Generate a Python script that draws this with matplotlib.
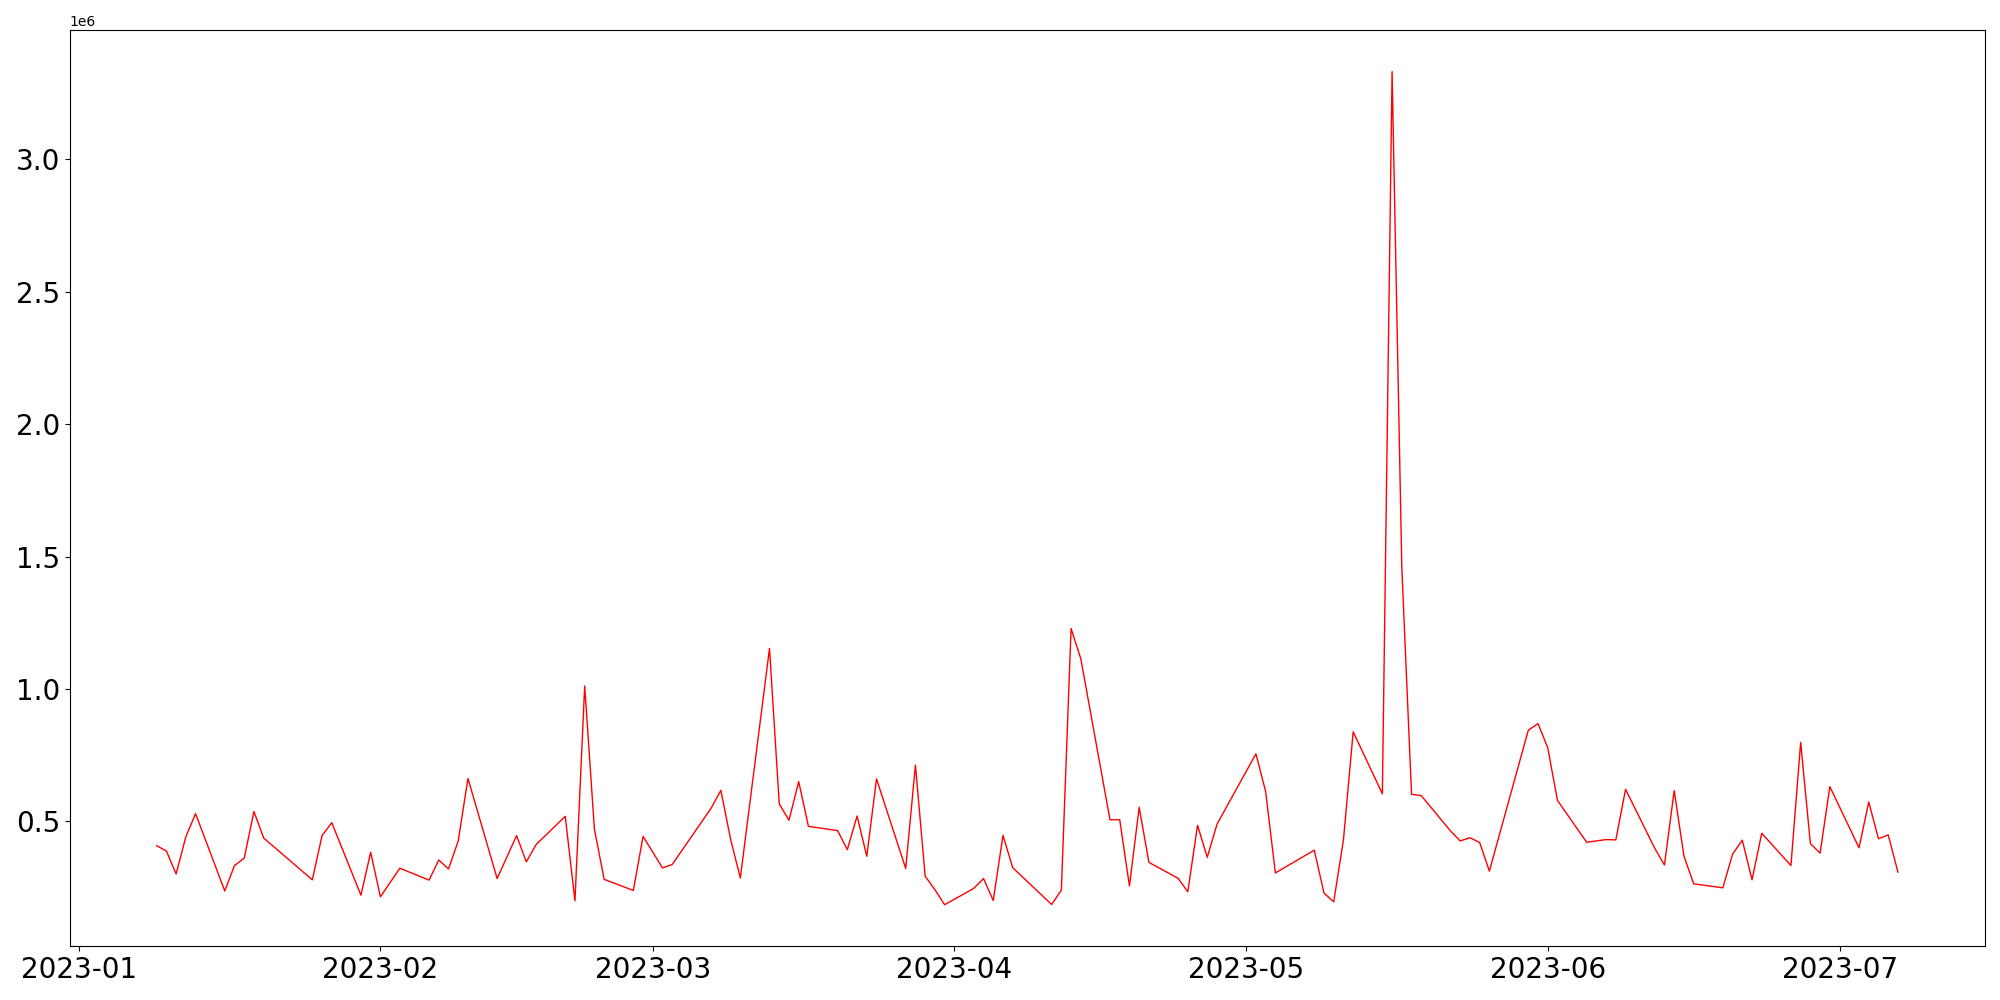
import matplotlib
matplotlib.use('Agg')
import matplotlib.pyplot as plt
import pandas as pd

#### DATA
dates = ['2023-01-09', '2023-01-10', '2023-01-11', '2023-01-12', '2023-01-13',
         '2023-01-16', '2023-01-17', '2023-01-18', '2023-01-19', '2023-01-20',
         '2023-01-25', '2023-01-26', '2023-01-27', '2023-01-30', '2023-01-31',
         '2023-02-01', '2023-02-03', '2023-02-06', '2023-02-07', '2023-02-08',
         '2023-02-09', '2023-02-10', '2023-02-13', '2023-02-15', '2023-02-16',
         '2023-02-17', '2023-02-20', '2023-02-21', '2023-02-22', '2023-02-23',
         '2023-02-24', '2023-02-27', '2023-02-28', '2023-03-02', '2023-03-03',
         '2023-03-07', '2023-03-08', '2023-03-09', '2023-03-10', '2023-03-13',
         '2023-03-14', '2023-03-15', '2023-03-16', '2023-03-17', '2023-03-20',
         '2023-03-21', '2023-03-22', '2023-03-23', '2023-03-24', '2023-03-27',
         '2023-03-28', '2023-03-29', '2023-03-30', '2023-03-31', '2023-04-03',
         '2023-04-04', '2023-04-05', '2023-04-06', '2023-04-07', '2023-04-11',
         '2023-04-12', '2023-04-13', '2023-04-14', '2023-04-17', '2023-04-18',
         '2023-04-19', '2023-04-20', '2023-04-21', '2023-04-24', '2023-04-25',
         '2023-04-26', '2023-04-27', '2023-04-28', '2023-05-02', '2023-05-03',
         '2023-05-04', '2023-05-08', '2023-05-09', '2023-05-10', '2023-05-11',
         '2023-05-12', '2023-05-15', '2023-05-16', '2023-05-17', '2023-05-18',
         '2023-05-19', '2023-05-22', '2023-05-23', '2023-05-24', '2023-05-25',
         '2023-05-26', '2023-05-30', '2023-05-31', '2023-06-01', '2023-06-02',
         '2023-06-05', '2023-06-07', '2023-06-08', '2023-06-09', '2023-06-12',
         '2023-06-13', '2023-06-14', '2023-06-15', '2023-06-16', '2023-06-19',
         '2023-06-20', '2023-06-21', '2023-06-22', '2023-06-23', '2023-06-26',
         '2023-06-27', '2023-06-28', '2023-06-29', '2023-06-30', '2023-07-03',
         '2023-07-04', '2023-07-05', '2023-07-06', '2023-07-07']

values = [408000, 388000, 301000, 442000, 529000,
          237000, 333000, 361000, 537000, 437000,
          279000, 446000, 495000, 221000, 383000,
          215000, 323000, 278000, 354000, 320000,
          426000, 662000, 284000, 446000, 347000,
          412000, 519000, 200000, 1011000, 470000,
          281000, 239000, 443000, 324000, 337000,
          550000, 617000, 432000, 286000, 1153000,
          566000, 504000, 650000, 481000, 465000,
          393000, 520000, 368000, 660000, 322000,
          712000, 293000, 242000, 185000, 247000,
          284000, 201000, 447000, 325000, 186000,
          240000, 1228000, 1114000, 506000, 506000,
          256000, 553000, 345000, 285000, 234000,
          485000, 364000, 489000, 755000, 613000,
          305000, 391000, 229000, 196000, 430000,
          838000, 604000, 3331000, 1457000, 602000,
          597000, 464000, 426000, 438000, 420000,
          312000, 844000, 869000, 778000, 579000,
          421000, 431000, 430000, 621000, 398000,
          335000, 616000, 369000, 264000, 249000,
          376000, 429000, 279000, 455000, 333000,
          798000, 416000, 380000, 631000, 400000,
          573000, 434000, 449000, 308000]

x = pd.to_datetime(dates)

#### PLOT
fig = plt.figure(figsize=(20, 10), dpi=100)
ax = fig.add_axes([0.0348, 0.0536, 0.9577, 0.9164])
ax.plot(x, values, color='red', lw=1)
ax.tick_params(axis='both', labelsize=20)
plt.savefig('out.png')
